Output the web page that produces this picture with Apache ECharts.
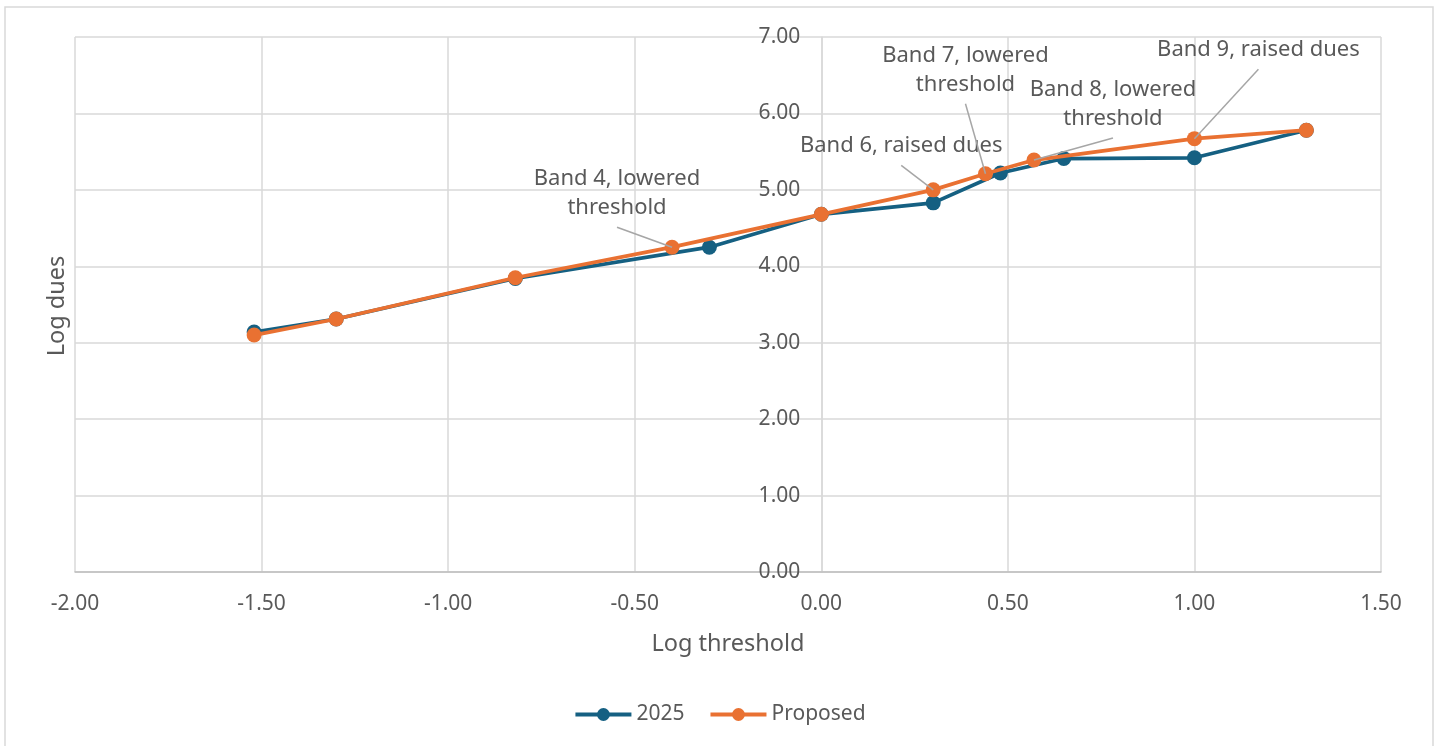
<!DOCTYPE html>
<html><head><meta charset="utf-8">
<script src="https://cdn.jsdelivr.net/npm/echarts@6/dist/echarts.min.js"></script>
<style>html,body{margin:0;padding:0;background:#fff}#c{width:1439px;height:746px}</style>
</head><body><div id="c"></div>
<script>
const x2025 = [-1.52, -1.30, -0.82, -0.30, 0.00, 0.30, 0.48, 0.65, 1.00, 1.30];
const y2025 = [3.14, 3.31, 3.84, 4.25, 4.68, 4.83, 5.22, 5.41, 5.42, 5.78];
const xProp = [-1.52, -1.30, -0.82, -0.40, 0.00, 0.30, 0.44, 0.57, 1.00, 1.30];
const yProp = [3.10, 3.31, 3.85, 4.25, 4.68, 5.00, 5.21, 5.39, 5.67, 5.78];
const seriesNames = ['2025', 'Proposed'];
const annotations = [
  {index: 3, text: 'Band 4, lowered\nthreshold', dx: -55, dy: -54},
  {index: 5, text: 'Band 6, raised dues', dx: -32, dy: -44},
  {index: 6, text: 'Band 7, lowered\nthreshold', dx: -20, dy: -104},
  {index: 7, text: 'Band 8, lowered\nthreshold', dx: 79, dy: -56},
  {index: 8, text: 'Band 9, raised dues', dx: 64, dy: -89}
];
const FONT = '"Noto Sans", sans-serif';
const TXT = '#595959';
const LINE_H = 29;
const annByIndex = {};
annotations.forEach(a => annByIndex[a.index] = a);

const data2025 = x2025.map((x, i) => [x, y2025[i]]);
const dataProp = xProp.map((x, i) => {
  const a = annByIndex[i];
  const d = {value: [x, yProp[i]]};
  if (a) d.label = {show: true, formatter: a.text};
  return d;
});
// leader-line anchors: the annotated Proposed points
const leaderData = annotations.map((a, k) => [xProp[a.index], yProp[a.index], k]);

const GRID_LEFT = 75;
const chart = echarts.init(document.getElementById('c'));
const option = {
  animation: false,
  textStyle: {fontFamily: FONT},
  graphic: [
    {type: 'rect', shape: {x: 5, y: 7, width: 1428, height: 760}, style: {fill: 'none', stroke: '#d9d9d9', lineWidth: 1.5}, silent: true},
    {type: 'text', x: 57, y: 306, rotation: Math.PI / 2, style: {text: 'Log dues', fill: TXT, font: '23.5px ' + FONT, align: 'center', verticalAlign: 'middle'}}
  ],
  grid: {left: GRID_LEFT, right: 58, top: 37, bottom: 174},
  legend: {
    bottom: 16, left: 'center', itemWidth: 56, itemHeight: 16, itemGap: 24,
    textStyle: {color: TXT, fontSize: 21, fontFamily: FONT},
    lineStyle: {width: 4},
    data: seriesNames
  },
  xAxis: {
    type: 'value', min: -2, max: 1.5, interval: 0.5,
    name: 'Log threshold', nameLocation: 'middle', nameGap: 60,
    nameTextStyle: {color: TXT, fontSize: 23.5, fontFamily: FONT},
    axisLine: {show: true, onZero: false, lineStyle: {color: '#bfbfbf', width: 1.5}},
    axisTick: {show: false},
    axisLabel: {color: TXT, fontSize: 21, margin: 22, formatter: v => v.toFixed(2)},
    splitLine: {show: true, lineStyle: {color: '#d9d9d9', width: 1.5}}
  },
  yAxis: {
    type: 'value', min: 0, max: 7, interval: 1, offset: 0,
    axisLine: {show: true, onZero: true, lineStyle: {color: '#d9d9d9', width: 1.5}},
    axisTick: {show: false},
    axisLabel: {color: TXT, fontSize: 21, margin: 21, formatter: v => v.toFixed(2)},
    splitLine: {show: true, lineStyle: {color: '#d9d9d9', width: 1.5}}
  },
  series: [
    {
      name: seriesNames[0], type: 'line', data: data2025, symbol: 'circle', symbolSize: 15,
      lineStyle: {color: '#156082', width: 3.75}, itemStyle: {color: '#156082'}, z: 2
    },
    {
      name: seriesNames[1], type: 'line', data: dataProp, symbol: 'circle', symbolSize: 15,
      lineStyle: {color: '#E97132', width: 3.75}, itemStyle: {color: '#E97132'}, z: 3,
      label: {show: false, position: 'inside', color: TXT, fontSize: 22, fontFamily: FONT, lineHeight: LINE_H, align: 'center'},
      labelLayout: function (p) {
        const a = annByIndex[p.dataIndex];
        if (!a) return {};
        return {dx: a.dx, dy: a.dy};
      }
    },
    {
      name: 'leaders', type: 'custom', data: leaderData, z: 4, silent: true, clip: false,
      encode: {x: 0, y: 1},
      renderItem: function (params, api) {
        const a = annotations[api.value(2)];
        const pt = api.coord([api.value(0), api.value(1)]);
        const nLines = a.text.split('\n').length;
        const sx = pt[0] + a.dx;
        const sy = pt[1] + a.dy + nLines * LINE_H / 2 + 5;
        return {
          type: 'line',
          shape: {x1: sx, y1: sy, x2: pt[0], y2: pt[1]},
          style: {stroke: '#a6a6a6', lineWidth: 1.5}
        };
      }
    }
  ]
};
chart.setOption(option);
// Place the y axis where x = 0 using the library's own x scale
const zeroPx = chart.convertToPixel({xAxisIndex: 0}, 0);
chart.setOption({yAxis: {offset: -(zeroPx - GRID_LEFT), axisLine: {onZero: false}}});
</script></body></html>
